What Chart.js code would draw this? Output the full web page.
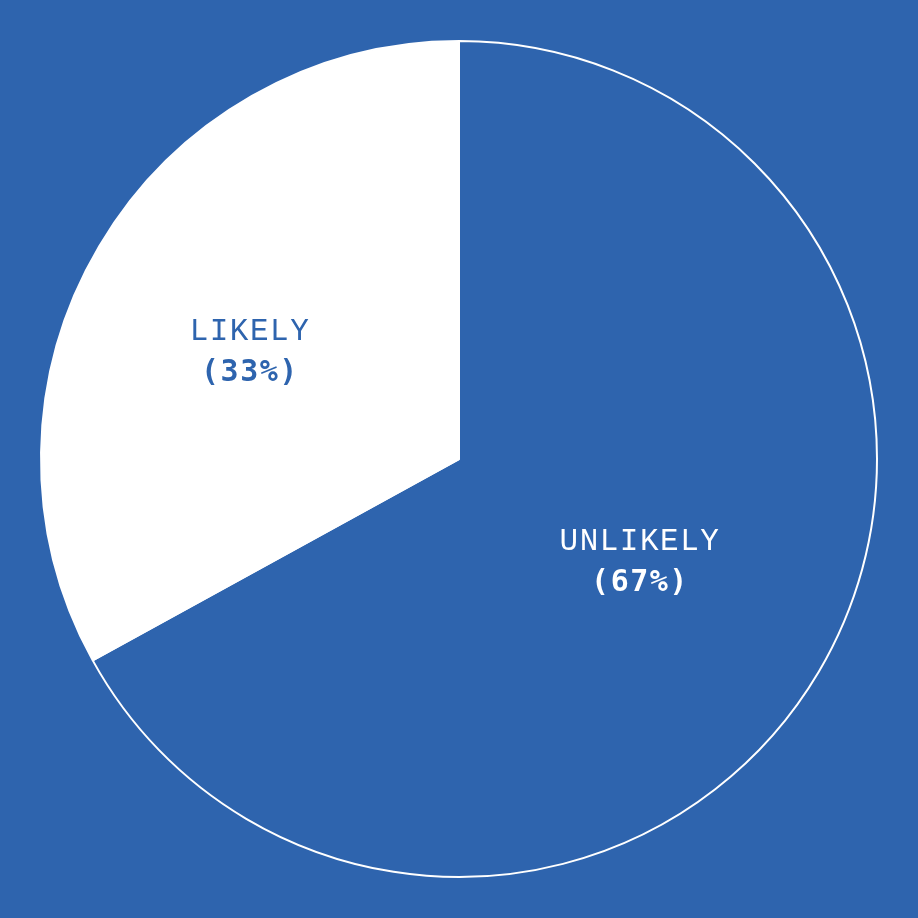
<!DOCTYPE html>
<html>
<head>
<meta charset="utf-8">
<script src="https://cdn.jsdelivr.net/npm/chart.js@4/dist/chart.umd.min.js"></script>
<style>
  html, body { margin: 0; padding: 0; background: #2E64AE; }
  #wrap { width: 918px; height: 918px; }
</style>
</head>
<body>
<div id="wrap"><canvas id="pie"></canvas></div>
<script>
const categories = ["UNLIKELY", "LIKELY"]
const shares = [67, 33]
const percentLabels = ["(67%)", "(33%)"]

const BLUE = '#2E64AE'

// draws the two-line label inside each slice
const sliceLabels = {
    id: 'sliceLabels',
    afterDatasetsDraw(chart) {
        const ctx = chart.ctx
        const meta = chart.getDatasetMeta(0)
        const textColors = [ '#ffffff', BLUE ]
        const distX = [ 0.503, 0.581 ]
        const distY = [ 0.485, 0.503 ]
        meta.data.forEach((arc, i) => {
            const mid = (arc.startAngle + arc.endAngle) / 2
            const x = arc.x + Math.cos(mid) * arc.outerRadius * distX[i]
            const y = arc.y + Math.sin(mid) * arc.outerRadius * distY[i]
            ctx.save()
            ctx.fillStyle = textColors[i]
            ctx.textAlign = 'center'
            ctx.textBaseline = 'middle'
            ctx.letterSpacing = '1.5px'
            ctx.font = '31px "Liberation Mono", monospace'
            ctx.fillText(categories[i], x, y - 20)
            ctx.font = 'bold 30px "DejaVu Sans Mono", monospace'
            ctx.letterSpacing = '1.5px'
            ctx.fillText(percentLabels[i], x, y + 21)
            ctx.restore()
        })
    }
}

new Chart(document.querySelector('#pie'), {
    type: 'pie',
    data: {
        labels: categories,
        datasets: [{
            data: shares,
            backgroundColor: [ BLUE, '#ffffff' ],
            borderColor: '#ffffff',
            borderWidth: 2
        }]
    },
    options: {
        responsive: true,
        maintainAspectRatio: false,
        animation: false,
        devicePixelRatio: 1,
        layout: { padding: 40 },
        plugins: {
            legend: { display: false },
            tooltip: { enabled: false }
        }
    },
    plugins: [ sliceLabels ]
})
</script>
</body>
</html>
